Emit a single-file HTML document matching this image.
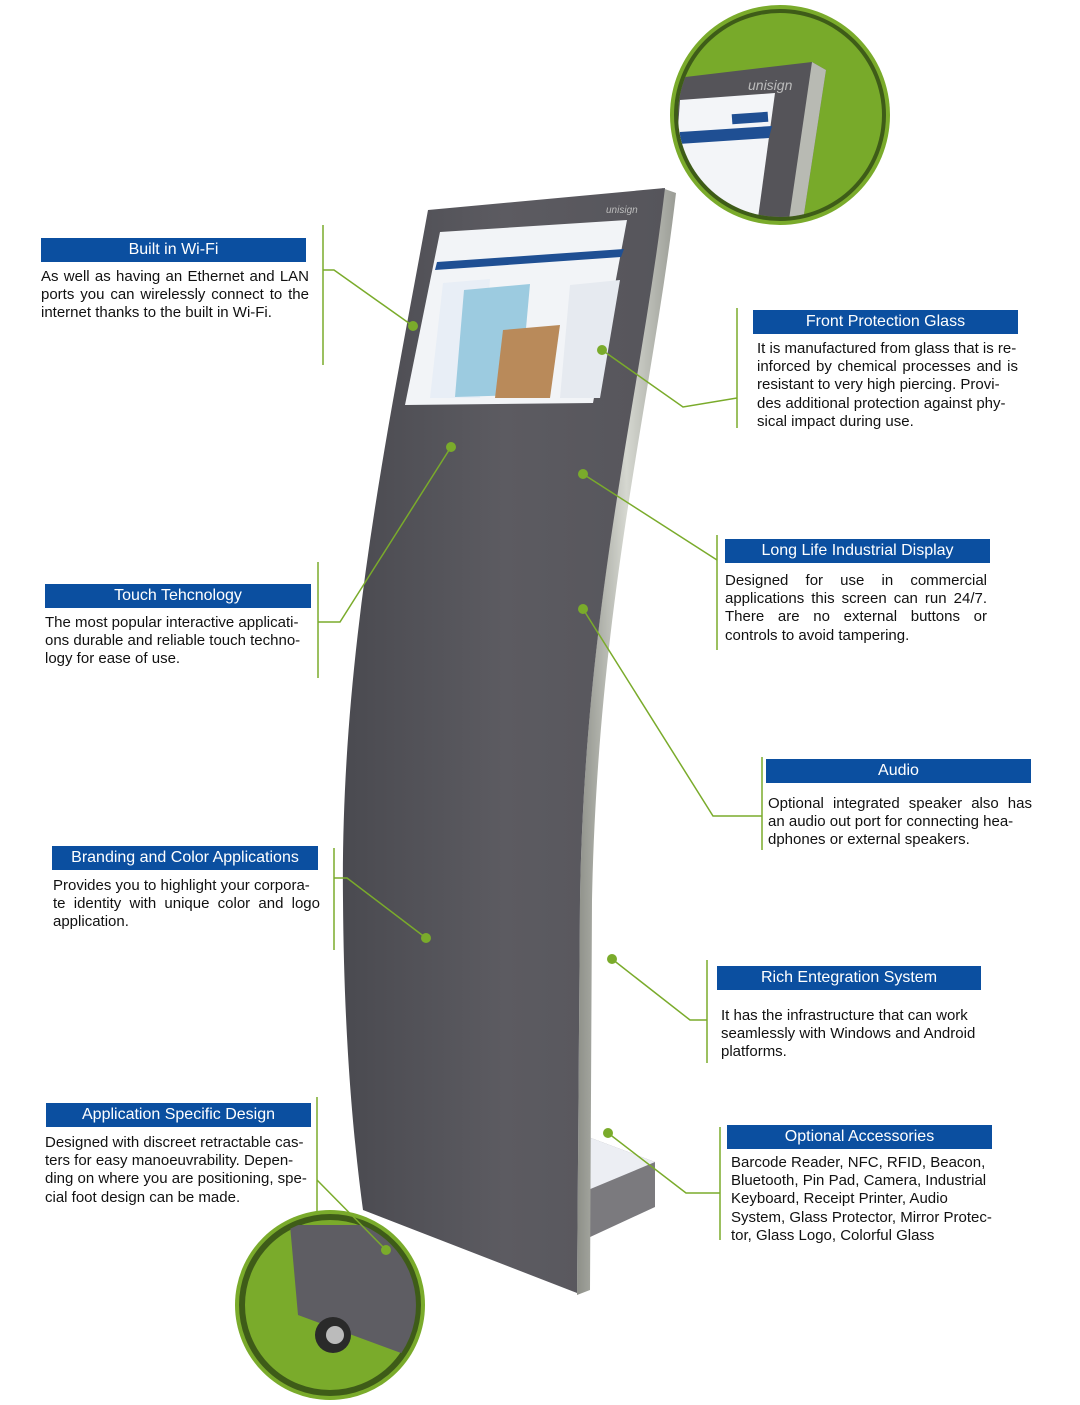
<!DOCTYPE html>
<html><head><meta charset="utf-8">
<style>
body{margin:0;width:1080px;height:1405px;background:#fff;position:relative;overflow:hidden;font-family:"Liberation Sans",sans-serif;}
.h{position:absolute;background:#0b4fa0;color:#fff;font-size:16px;height:24px;line-height:24px;text-align:center;}
.t{position:absolute;font-size:15px;line-height:18.2px;color:#111;text-align:justify;}
svg{position:absolute;left:0;top:0}
</style></head><body>
<svg width="1080" height="1405" viewBox="0 0 1080 1405">
<defs>
<linearGradient id="pg" x1="0" x2="1"><stop offset="0" stop-color="#4a4a50"/><stop offset="0.5" stop-color="#5c5b61"/><stop offset="1" stop-color="#56555b"/></linearGradient>
<linearGradient id="sv" x1="0" x2="1"><stop offset="0" stop-color="#8d8f88"/><stop offset="0.5" stop-color="#d5d7d0"/><stop offset="1" stop-color="#9a9c95"/></linearGradient>
<clipPath id="c1"><circle cx="780" cy="115" r="102"/></clipPath>
<clipPath id="c2"><circle cx="330" cy="1305" r="86"/></clipPath>
</defs>
<polygon points="583,1135 655,1162 655,1207 588,1238" fill="#7b7a7e"/>
<polygon points="583,1135 655,1162 588,1190" fill="#eceef3"/>
<path d="M662,188 L676,193 C652,400 598,600 592,900 L590,1290 L577,1295 L580,900 C585,600 640,400 662,188 Z" fill="url(#sv)"/>
<path d="M428,210 L665,188 C640,400 585,600 580,900 L577,1293 L363,1210 C355,1150 344,1050 343,900 C340,650 390,420 428,210 Z" fill="url(#pg)"/>
<polygon points="440,232 627,220 593,403 405,405" fill="#f2f4f7"/>
<polygon points="437,262 624,249 621,257 435,270" fill="#1f4f93"/>
<polygon points="443,283 490,279 480,398 430,398" fill="#e8eef6"/>
<polygon points="464,290 530,284 520,395 455,397" fill="#9ccbe0"/>
<polygon points="503,330 560,325 550,398 495,398" fill="#b98a5a"/>
<polygon points="570,285 620,280 600,398 560,398" fill="#e6eaf0"/>
<text x="606" y="213" font-size="10" fill="#bbb" font-style="italic">unisign</text>
<circle cx="780" cy="115" r="110" fill="#7aab2b"/>
<circle cx="780" cy="115" r="103" fill="none" stroke="#3e5c18" stroke-width="6"/>
<g clip-path="url(#c1)">
<rect x="660" y="0" width="250" height="240" fill="#78aa2a"/>
<polygon points="660,80 812,62 826,70 800,240 660,240" fill="#555459"/>
<polygon points="812,62 826,70 800,240 786,240" fill="#b8bab3"/>
<polygon points="680,100 775,93 755,240 670,240" fill="#f3f5f8"/>
<polygon points="680,132 772,126 769,138 678,144" fill="#1f4f93"/>
<rect x="732" y="113" width="36" height="10" fill="#1f4f93" transform="rotate(-4 750 118)"/>
<text x="748" y="90" font-size="14" fill="#bbb" font-style="italic">unisign</text>
</g>
<circle cx="330" cy="1305" r="95" fill="#7aab2b"/>
<circle cx="330" cy="1305" r="88" fill="none" stroke="#3e5c18" stroke-width="6"/>
<g clip-path="url(#c2)">
<polygon points="290,1225 420,1225 420,1360 298,1315" fill="#5e5d63"/>
<circle cx="333" cy="1335" r="18" fill="#2a2a2a"/>
<circle cx="335" cy="1335" r="9" fill="#bbb"/>
</g>
<g stroke="#7aab2b" stroke-width="1.5" fill="none">
<line x1="323" y1="225" x2="323" y2="365"/><polyline points="323,270 334,270 413,326"/>
<line x1="737" y1="308" x2="737" y2="428"/><polyline points="737,398 683,407 602,350"/>
<line x1="717" y1="535" x2="717" y2="650"/><polyline points="717,560 583,474"/>
<line x1="318" y1="562" x2="318" y2="678"/><polyline points="318,622 340,622 451,447"/>
<line x1="762" y1="757" x2="762" y2="850"/><polyline points="762,816 713,816 583,609"/>
<line x1="334" y1="848" x2="334" y2="950"/><polyline points="334,878 347,878 426,938"/>
<line x1="707" y1="960" x2="707" y2="1063"/><polyline points="707,1020 690,1020 612,959"/>
<line x1="317" y1="1097" x2="317" y2="1212"/><polyline points="317,1180 386,1250"/>
<line x1="720" y1="1127" x2="720" y2="1240"/><polyline points="720,1193 686,1193 608,1133"/>
</g>
<g fill="#7aab2b">
<circle cx="413" cy="326" r="5"/><circle cx="602" cy="350" r="5"/><circle cx="583" cy="474" r="5"/>
<circle cx="451" cy="447" r="5"/><circle cx="583" cy="609" r="5"/><circle cx="426" cy="938" r="5"/>
<circle cx="612" cy="959" r="5"/><circle cx="386" cy="1250" r="5"/><circle cx="608" cy="1133" r="5"/>
</g>
</svg>

<div class="h" style="left:41px;top:238px;width:265px">Built in Wi-Fi</div>
<div class="t" style="left:41px;top:268px;width:268px">As well as having an Ethernet and LAN ports you can wirelessly connect to the internet thanks to the built in Wi-Fi.</div>

<div class="h" style="left:753px;top:310px;width:265px">Front Protection Glass</div>
<div class="t" style="left:757px;top:340px;width:261px">It is manufactured from glass that is re-<br>inforced by chemical processes and is resistant to very high piercing. Provi-<br>des additional protection against phy-<br>sical impact during use.</div>

<div class="h" style="left:725px;top:539px;width:265px">Long Life Industrial Display</div>
<div class="t" style="left:725px;top:572px;width:262px">Designed for use in commercial applications this screen can run 24/7. There are no external buttons or controls to avoid tampering.</div>

<div class="h" style="left:45px;top:584px;width:266px">Touch Tehcnology</div>
<div class="t" style="left:45px;top:614px;width:268px">The most popular interactive applicati-<br>ons durable and reliable touch techno-<br>logy for ease of use.</div>

<div class="h" style="left:766px;top:759px;width:265px">Audio</div>
<div class="t" style="left:768px;top:795px;width:264px">Optional integrated speaker also has an audio out port for connecting hea-<br>dphones or external speakers.</div>

<div class="h" style="left:52px;top:846px;width:266px">Branding and Color Applications</div>
<div class="t" style="left:53px;top:877px;width:267px">Provides you to highlight your corpora-<br>te identity with unique color and logo application.</div>

<div class="h" style="left:717px;top:966px;width:264px">Rich Entegration System</div>
<div class="t" style="left:721px;top:1007px;width:262px;text-align:left">It has the infrastructure that can work seamlessly with Windows and Android platforms.</div>

<div class="h" style="left:46px;top:1103px;width:265px">Application Specific Design</div>
<div class="t" style="left:45px;top:1134px;width:268px">Designed with discreet retractable cas-<br>ters for easy manoeuvrability. Depen-<br>ding on where you are positioning, spe-<br>cial foot design can be made.</div>

<div class="h" style="left:727px;top:1125px;width:265px">Optional Accessories</div>
<div class="t" style="left:731px;top:1154px;width:300px;text-align:left;white-space:nowrap">Barcode Reader, NFC, RFID, Beacon,<br>Bluetooth, Pin Pad, Camera, Industrial<br>Keyboard, Receipt Printer, Audio<br>System, Glass Protector, Mirror Protec-<br>tor, Glass Logo, Colorful Glass</div>
</body></html>
